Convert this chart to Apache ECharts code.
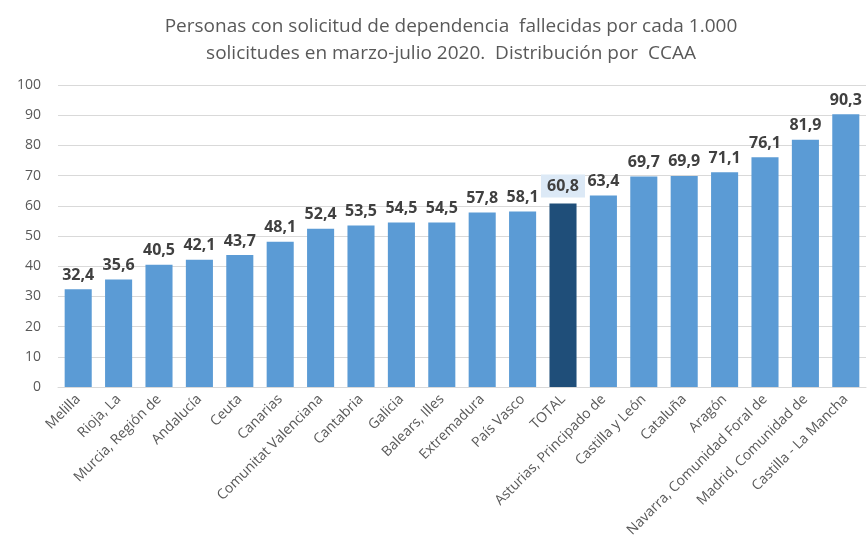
<!DOCTYPE html>
<html>
    <head>
        <title>Personas con solicitud de dependencia fallecidas</title>
        <meta charset="utf-8">
        <script src="https://cdn.jsdelivr.net/npm/echarts@6/dist/echarts.min.js"></script>
    </head>
    <body style="margin:0;background:#fff;">
        <div id="bar" style="width:868px; height:549px;"></div>
        <script>
            var categories = ["Melilla", "Rioja, La", "Murcia, Región de", "Andalucía", "Ceuta", "Canarias",
                "Comunitat Valenciana", "Cantabria", "Galicia", "Balears, Illes", "Extremadura", "País Vasco",
                "TOTAL", "Asturias, Principado de", "Castilla y León", "Cataluña", "Aragón",
                "Navarra, Comunidad Foral de", "Madrid, Comunidad de", "Castilla - La Mancha"];
            var values = [32.4, 35.6, 40.5, 42.1, 43.7, 48.1, 52.4, 53.5, 54.5, 54.5, 57.8, 58.1,
                60.8, 63.4, 69.7, 69.9, 71.1, 76.1, 81.9, 90.3];
            var yTicks = [0, 10, 20, 30, 40, 50, 60, 70, 80, 90, 100];

            var chart = echarts.init(document.getElementById('bar'), null, {renderer: 'canvas'});

            var data = values.map(function (v, i) {
                var item = {value: v};
                if (categories[i] === "TOTAL") {
                    item.itemStyle = {color: '#1f4e79'};
                    item.label = {backgroundColor: '#dce9f6', padding: [4, 6, 3, 6]};
                }
                return item;
            });

            chart.setOption({
                animation: false,
                title: {
                    text: 'Personas con solicitud de dependencia  fallecidas por cada 1.000\nsolicitudes en marzo-julio 2020.  Distribución por  CCAA',
                    left: 446,
                    textAlign: 'center',
                    top: 8,
                    textStyle: {
                        fontFamily: 'Open Sans',
                        fontWeight: 'normal',
                        fontSize: 19,
                        lineHeight: 27,
                        color: '#595959'
                    }
                },
                grid: {left: 58, right: 2, top: 85, bottom: 162},
                xAxis: {
                    type: 'category',
                    data: categories,
                    axisLine: {lineStyle: {color: '#d9d9d9'}},
                    axisTick: {show: false},
                    axisLabel: {
                        rotate: 45,
                        interval: 0,
                        margin: 10,
                        fontFamily: 'Open Sans',
                        fontSize: 14,
                        color: '#595959'
                    }
                },
                yAxis: {
                    type: 'value',
                    min: yTicks[0],
                    max: yTicks[yTicks.length - 1],
                    interval: 10,
                    axisLine: {show: false},
                    axisTick: {show: false},
                    splitLine: {lineStyle: {color: '#d9d9d9'}},
                    axisLabel: {
                        margin: 17,
                        fontFamily: 'Open Sans',
                        fontSize: 14,
                        color: '#595959'
                    }
                },
                series: [{
                    type: 'bar',
                    data: data,
                    barWidth: '67%',
                    itemStyle: {color: '#5b9bd5'},
                    label: {
                        show: true,
                        position: 'top',
                        distance: 6,
                        fontFamily: 'Open Sans',
                        fontWeight: 'bold',
                        fontSize: 16,
                        color: '#404040',
                        formatter: function (p) {
                            return p.value.toFixed(1).replace('.', ',');
                        }
                    }
                }]
            });
        </script>
    </body>
</html>
